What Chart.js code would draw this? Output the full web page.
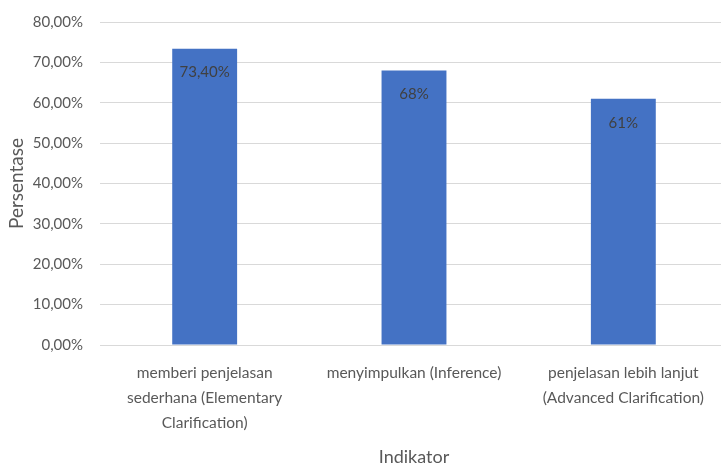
<!DOCTYPE html>
<html>
<head>
<meta charset="utf-8">
<script src="https://cdn.jsdelivr.net/npm/chart.js@4"></script>
<style>
  html, body { margin: 0; padding: 0; background: #fff; overflow: hidden; }
  #wrap { width: 735px; height: 464px; position: relative; }
</style>
</head>
<body>
<div id="wrap"><canvas id="chartBars"></canvas></div>
<script>
// Data
const categories = [
  ['memberi penjelasan', 'sederhana (Elementary', 'Clarification)'],
  'menyimpulkan (Inference)',
  ['penjelasan lebih lanjut', '(Advanced Clarification)']
];
const values = [73.4, 68, 61];
const valueLabels = ['73,40%', '68%', '61%'];

const FONT = 'Lato, "Open Sans", sans-serif';
const TEXT = '#595959';

// Label di dalam ujung batang
const barLabels = {
  id: 'barLabels',
  afterDatasetsDraw(chart) {
    const ctx = chart.ctx;
    const meta = chart.getDatasetMeta(0);
    ctx.save();
    ctx.fillStyle = '#404040';
    ctx.font = '15px ' + FONT;
    ctx.textAlign = 'center';
    ctx.textBaseline = 'middle';
    meta.data.forEach((bar, i) => {
      ctx.fillText(valueLabels[i], bar.x, bar.y + 24);
    });
    ctx.restore();
  }
};

new Chart(document.getElementById('chartBars'), {
  type: 'bar',
  data: {
    labels: categories,
    datasets: [{
      data: values,
      backgroundColor: '#4472C4',
      borderWidth: 0,
      categoryPercentage: 1,
      barPercentage: 0.31
    }]
  },
  options: {
    responsive: true,
    maintainAspectRatio: false,
    animation: false,
    layout: { padding: { top: 22, right: 7, left: 0, bottom: 0 } },
    plugins: {
      legend: { display: false },
      tooltip: { enabled: false }
    },
    scales: {
      x: {
        grid: { display: false },
        border: { display: false },
        ticks: {
          color: TEXT,
          font: { family: FONT, size: 15.5, lineHeight: 1.6 },
          maxRotation: 0,
          padding: 8
        },
        title: {
          display: true,
          text: 'Indikator',
          color: TEXT,
          font: { family: FONT, size: 18, lineHeight: 1 },
          padding: { top: 0, bottom: -2 }
        },
        afterFit(scale) { scale.height = 464 - 345; }
      },
      y: {
        min: 0,
        max: 80,
        grid: { color: '#d9d9d9', lineWidth: 1, drawTicks: false },
        border: { display: false },
        ticks: {
          stepSize: 10,
          color: TEXT,
          font: { family: FONT, size: 15 },
          padding: 17,
          callback: v => v.toFixed(2).replace('.', ',') + '%'
        },
        title: {
          display: true,
          text: 'Persentase',
          color: TEXT,
          font: { family: FONT, size: 19, lineHeight: 1 },
          padding: { top: 7, bottom: 0 }
        },
        afterFit(scale) {
          scale.width = 100;
          scale.paddingTop = 0;
        }
      }
    }
  },
  plugins: [barLabels]
});
</script>
</body>
</html>
